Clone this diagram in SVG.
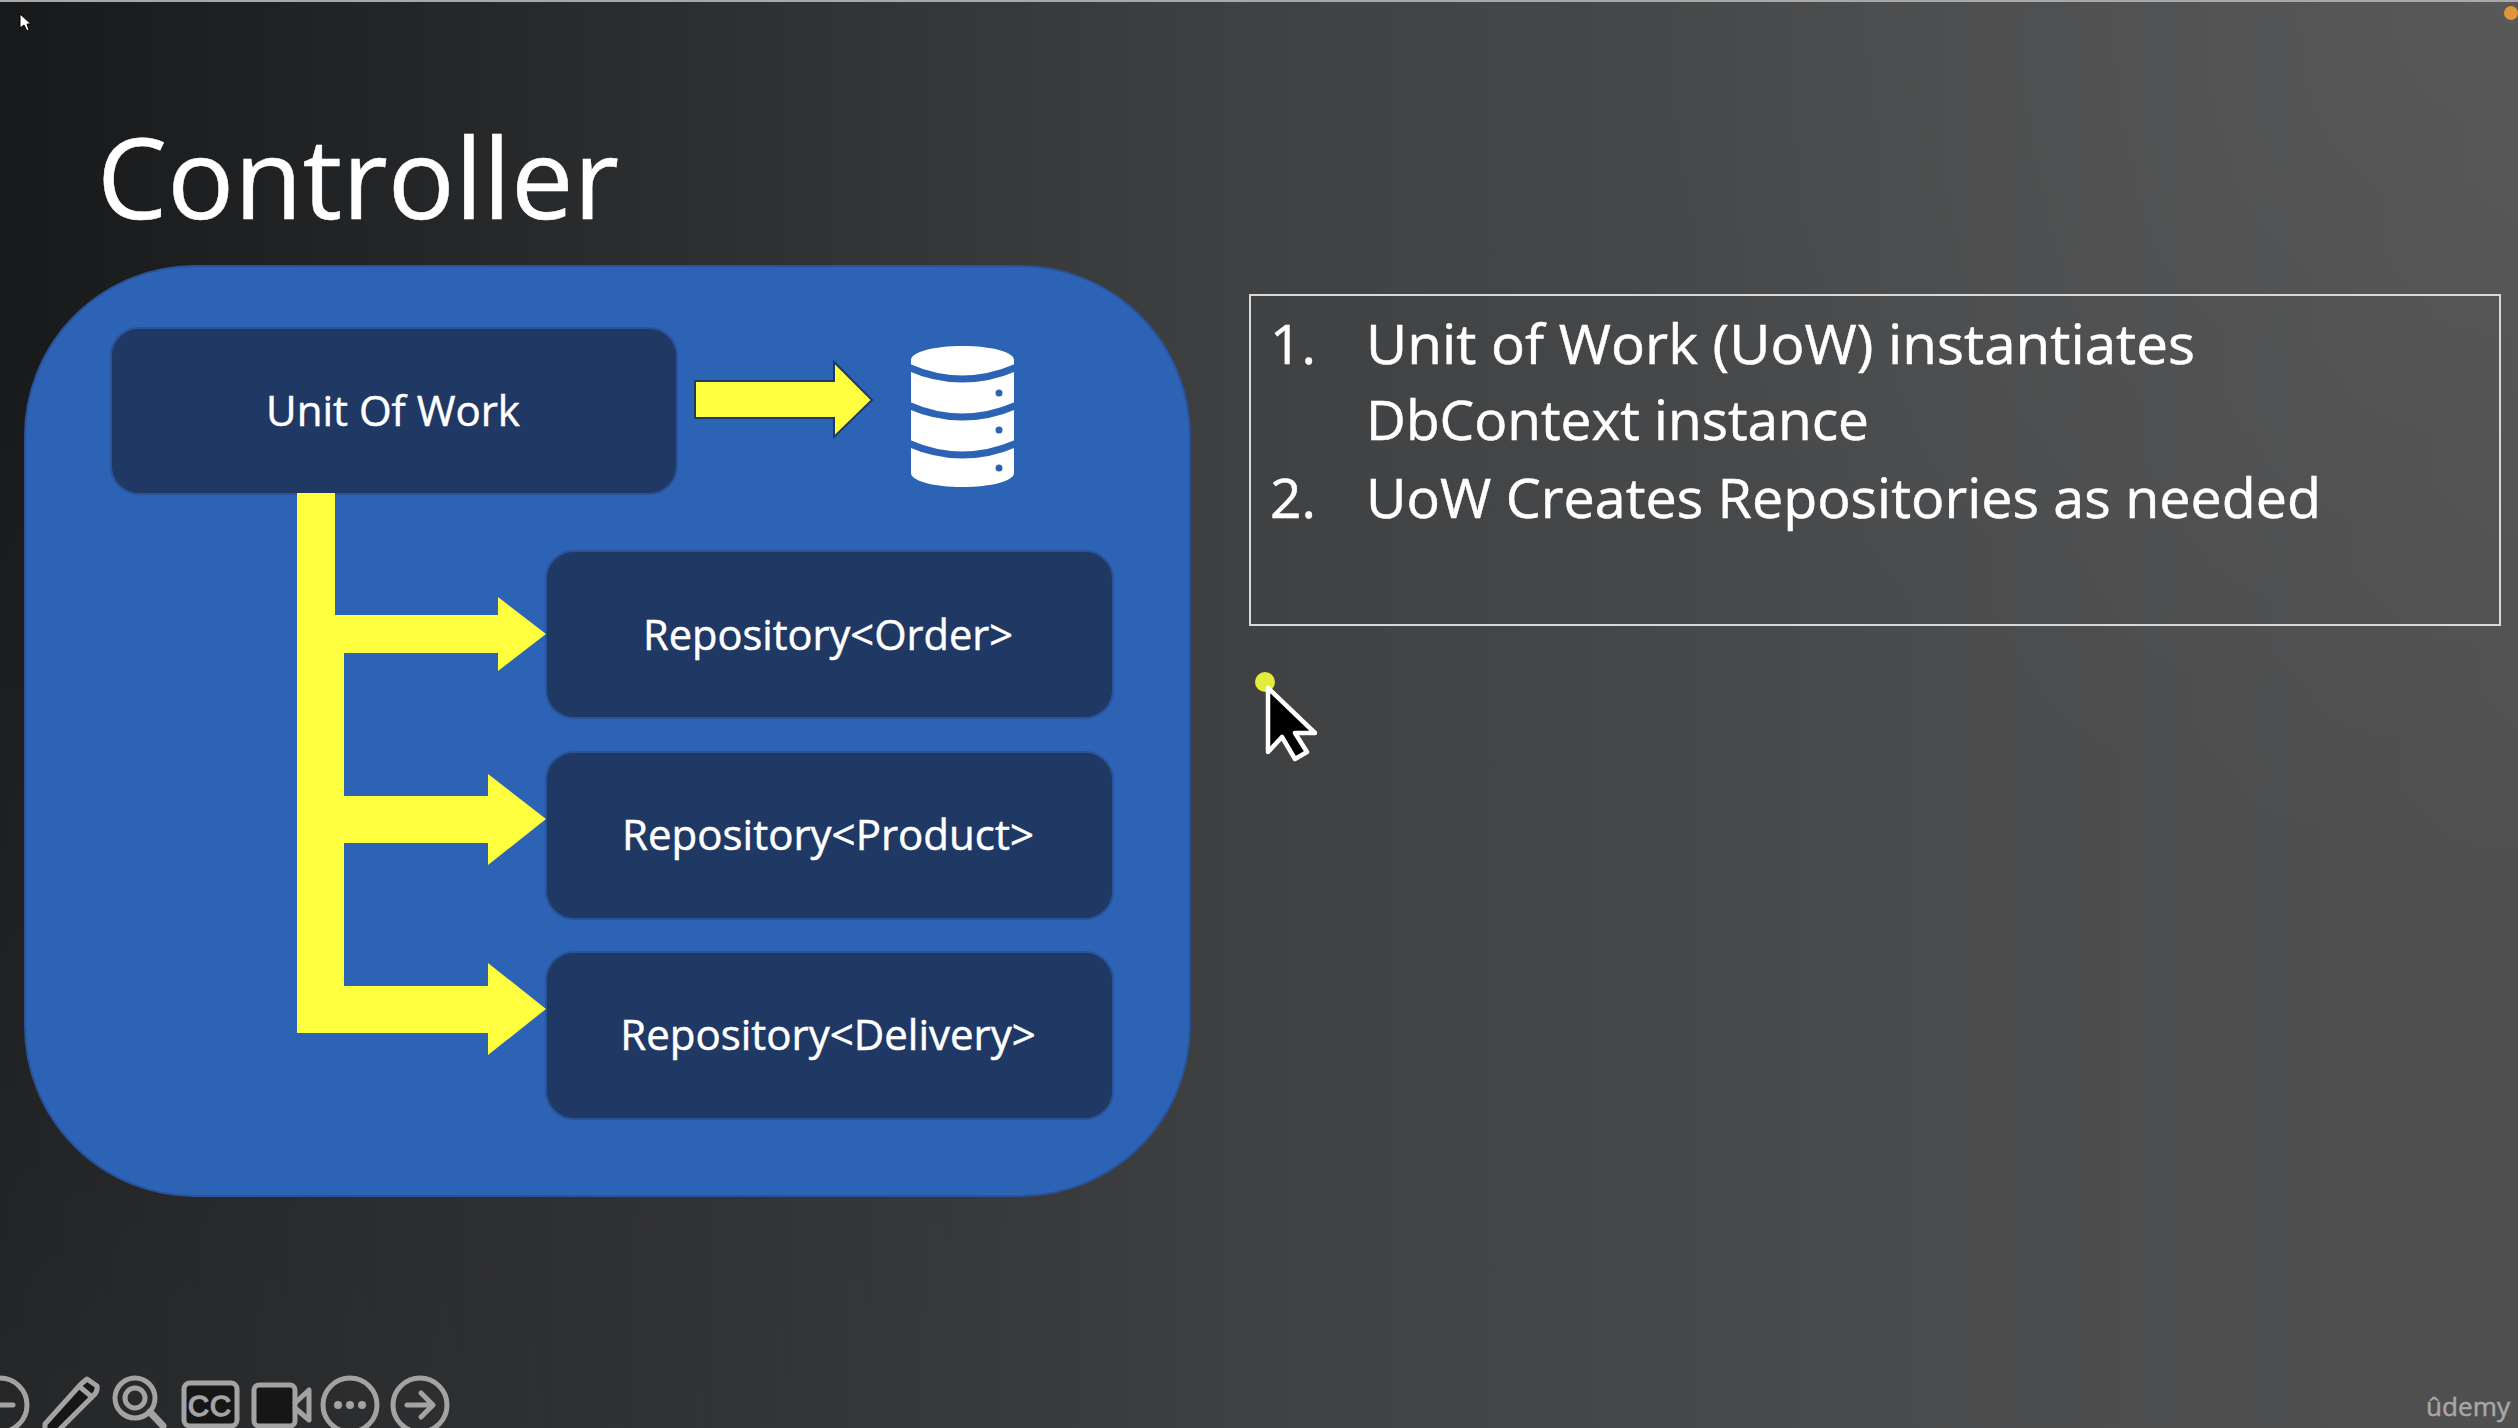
<svg xmlns="http://www.w3.org/2000/svg" width="2518" height="1428" viewBox="0 0 2518 1428">
<style>
text{font-family:"Open Sans","Noto Sans","Liberation Sans",sans-serif;fill:#fff;stroke:#fff;stroke-width:.5}
.box{fill:#1f3864;stroke:#2a5298;stroke-width:2}
.lab{font-size:42px;text-anchor:middle}
.li{font-size:55px}
.ic{fill:none;stroke:#a3a3a3;stroke-width:5;stroke-linejoin:round;stroke-linecap:round}
.arr{fill:#ffff40}
.gap{fill:none;stroke:#2d63b5;stroke-width:7}
</style>
<defs>
<linearGradient id="bg" gradientUnits="userSpaceOnUse" x1="0" y1="0" x2="2518" y2="0">
<stop offset="0" stop-color="#17191b"/>
<stop offset="0.25" stop-color="#2b2c2e"/>
<stop offset="0.5" stop-color="#404142"/>
<stop offset="0.75" stop-color="#4a4b4c"/>
<stop offset="1" stop-color="#505051"/>
</linearGradient>
<radialGradient id="tr" gradientUnits="userSpaceOnUse" cx="2518" cy="0" r="900">
<stop offset="0" stop-color="#fff" stop-opacity=".05"/><stop offset="1" stop-color="#fff" stop-opacity="0"/>
</radialGradient>
<radialGradient id="bl" gradientUnits="userSpaceOnUse" cx="0" cy="1428" r="1100">
<stop offset="0" stop-color="#fff" stop-opacity=".06"/><stop offset="1" stop-color="#fff" stop-opacity="0"/>
</radialGradient>
</defs>
<rect id="background" width="2518" height="1428" fill="url(#bg)"/>
<rect width="2518" height="1428" fill="url(#tr)"/>
<rect width="2518" height="1428" fill="url(#bl)"/>
<rect width="2518" height="2" fill="#a8a8a8"/>
<text id="title" x="97" y="219" font-size="112" textLength="522" lengthAdjust="spacingAndGlyphs">Controller</text>
<rect id="container" x="25" y="266" width="1165" height="930" rx="170" ry="170" fill="#2d63b5" stroke="#2a5298" stroke-width="2"/>
<g id="unit-of-work"><rect class="box" x="111" y="328" width="566" height="166" rx="28"/><text class="lab" x="393" y="426">Unit Of Work</text></g>
<g id="repo-order"><rect class="box" x="546" y="551" width="567" height="167" rx="28"/><text class="lab" x="828" y="650" textLength="370" lengthAdjust="spacingAndGlyphs">Repository&lt;Order&gt;</text></g>
<g id="repo-product"><rect class="box" x="546" y="752" width="567" height="167" rx="28"/><text class="lab" x="828" y="850">Repository&lt;Product&gt;</text></g>
<g id="repo-delivery"><rect class="box" x="546" y="952" width="567" height="167" rx="28"/><text class="lab" x="828" y="1050">Repository&lt;Delivery&gt;</text></g>
<g id="database">
<path fill="#fff" d="M911 360C911 352 934 346 962.5 346C991 346 1014 352 1014 360V473C1014 481 991 487 962.5 487C934 487 911 481 911 473Z"/>
<path class="gap" d="M908 367Q962 391 1017 367M908 405Q962 429 1017 405M908 443Q962 467 1017 443"/>
<circle cx="999" cy="393" r="3.5" fill="#2d63b5"/><circle cx="999" cy="430" r="3.5" fill="#2d63b5"/><circle cx="999" cy="468" r="3.5" fill="#2d63b5"/>
</g>
<g id="connectors">
<path class="arr" stroke="#1f3864" stroke-width="2" d="M695 381H834V362L872 400L834 437V418H695Z"/>
<path class="arr" d="M297 493H335V615H498V597L546 634L498 671V653H344V796H488V774L546 819L488 865V843H344V986H488V963L546 1009L488 1055V1033H297Z"/>
</g>
<g id="notes">
<rect x="1250" y="295" width="1250" height="330" fill="none" stroke="#d9d9d9" stroke-width="2"/>
<text class="li" x="1270" y="364">1.</text>
<text class="li" x="1366" y="364" textLength="829" lengthAdjust="spacingAndGlyphs">Unit of Work (UoW) instantiates</text>
<text class="li" x="1366" y="440" textLength="503" lengthAdjust="spacingAndGlyphs">DbContext instance</text>
<text class="li" x="1270" y="518">2.</text>
<text class="li" x="1366" y="518" textLength="955" lengthAdjust="spacingAndGlyphs">UoW Creates Repositories as needed</text>
</g>
<g id="cursors">
<path fill="#fff" stroke="#000" d="M20 14V28L24 25L27 31L29 30L27 24H31Z"/>
<circle cx="1265" cy="682" r="10" fill="#e3ec3a"/>
<path fill="#000" stroke="#fff" stroke-width="4.5" stroke-linejoin="round" d="M1268 688V752L1282 737L1295 759L1307 752L1295 733H1315Z"/>
<circle cx="2511" cy="13" r="7" fill="#e0953a"/>
</g>
<g id="toolbar">
<circle class="ic" cx="0" cy="1405" r="27"/><path class="ic" d="M-2 1405H13M-4 1394l-6 6M-4 1416l-6-6"/>
<path class="ic" style="fill:#161617" d="M87 1379L97 1386Q98 1392 93 1396L58 1431H45V1424L81 1384Z"/><path class="ic" d="M80 1387L92 1397"/>
<circle class="ic" cx="135" cy="1398" r="20"/><circle class="ic" cx="135" cy="1398" r="10"/><path class="ic" style="stroke-width:7" d="M150 1412L163 1426"/>
<rect class="ic" x="184" y="1383" width="53" height="43" rx="6" style="fill:#161617"/>
<text x="210" y="1416" font-size="29" text-anchor="middle" letter-spacing="1" style="fill:#a3a3a3;stroke:#a3a3a3;stroke-width:1.5;font-family:'Liberation Sans',sans-serif">CC</text>
<rect class="ic" x="254" y="1385" width="41" height="41" rx="5" style="fill:#161617"/><path class="ic" d="M295 1403L309 1390V1420L295 1408"/>
<circle class="ic" cx="350" cy="1405" r="27"/><circle cx="338" cy="1405" r="4" fill="#a3a3a3"/><circle cx="350" cy="1405" r="4" fill="#a3a3a3"/><circle cx="362" cy="1405" r="4" fill="#a3a3a3"/>
<circle class="ic" cx="420" cy="1405" r="27"/><path class="ic" d="M407 1405H433M421 1393L433 1405L421 1417"/>
</g>
<text id="watermark" x="2426" y="1416" font-size="26" textLength="84" lengthAdjust="spacingAndGlyphs" style="fill:#a8a8a8;stroke:#a8a8a8">ûdemy</text>
</svg>
